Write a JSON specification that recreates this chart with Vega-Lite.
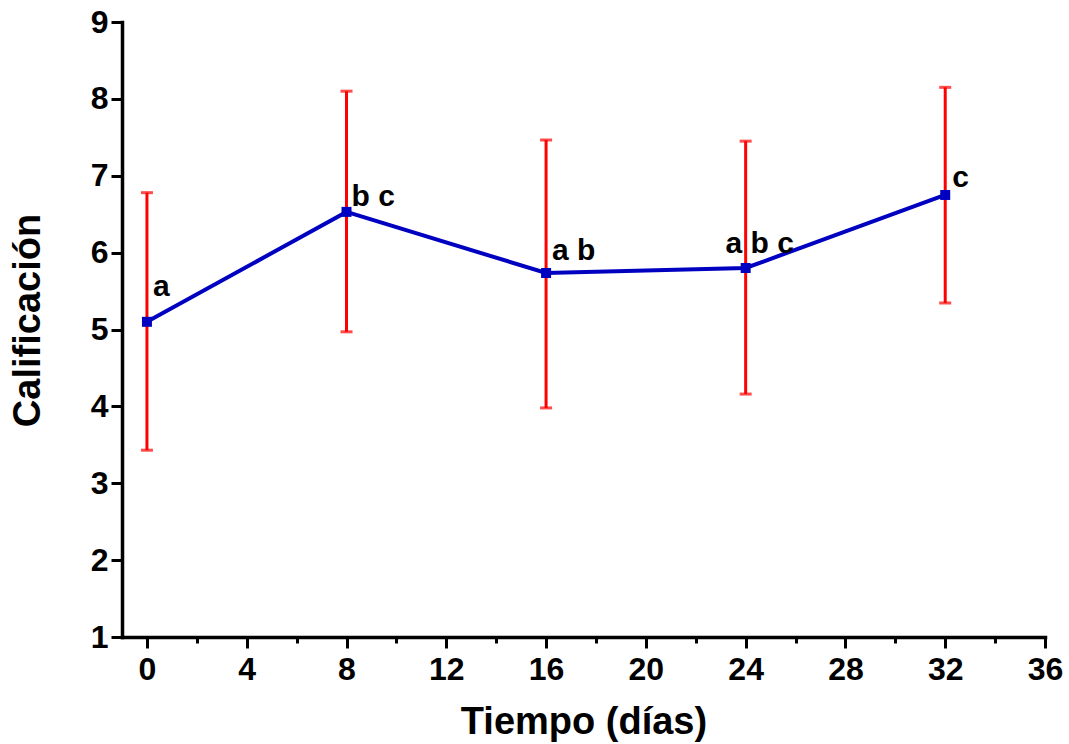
{
  "$schema": "https://vega.github.io/schema/vega-lite/v6.json",
  "width": 923,
  "height": 615,
  "autosize": "none",
  "padding": {"left": 122, "top": 22, "right": 24, "bottom": 107},
  "background": "white",
  "config": {
    "view": {"stroke": null},
    "font": "Liberation Sans",
    "axis": {
      "domainColor": "black",
      "domainWidth": 3.5,
      "domainCap": "square",
      "tickColor": "black",
      "tickWidth": 3,
      "grid": false,
      "labelFont": "Liberation Sans",
      "labelFontWeight": "bold",
      "labelFontSize": 32,
      "labelColor": "black",
      "titleFont": "Liberation Sans",
      "titleFontWeight": "bold",
      "titleFontSize": 38,
      "titleColor": "black"
    }
  },
  "data": {
    "values": [
      {"dias": 0, "media": 5.10, "lo": 3.43, "hi": 6.78, "letras": "a"},
      {"dias": 8, "media": 6.53, "lo": 4.97, "hi": 8.10, "letras": "b c"},
      {"dias": 16, "media": 5.735, "lo": 3.98, "hi": 7.465, "letras": "a b"},
      {"dias": 24, "media": 5.80, "lo": 4.16, "hi": 7.45, "letras": "a b c"},
      {"dias": 32, "media": 6.75, "lo": 5.345, "hi": 8.15, "letras": "c"}
    ]
  },
  "layer": [
    {
      "mark": {"type": "rule", "color": "#FF0000", "strokeWidth": 3},
      "encoding": {
        "x": {
          "field": "dias", "type": "quantitative",
          "scale": {"domain": [-1, 36], "nice": false, "zero": false},
          "axis": {
            "title": "Tiempo (días)",
            "values": [0, 2, 4, 6, 8, 10, 12, 14, 16, 18, 20, 22, 24, 26, 28, 30, 32, 34, 36],
            "labelExpr": "datum.value % 4 === 0 ? format(datum.value, 'd') : ''",
            "tickSize": {"condition": {"test": "datum.value % 4 === 0", "value": 11}, "value": 6},
            "labelFontSize": 32,
            "labelPadding": 6,
            "labelFlush": false,
            "labelOverlap": false,
            "titlePadding": 18
          }
        },
        "y": {
          "field": "lo", "type": "quantitative",
          "scale": {"domain": [1, 9], "nice": false, "zero": false},
          "axis": {
            "title": "Calificación",
            "values": [1, 1.5, 2, 2.5, 3, 3.5, 4, 4.5, 5, 5.5, 6, 6.5, 7, 7.5, 8, 8.5, 9],
            "labelExpr": "datum.value % 1 === 0 ? format(datum.value, 'd') : ''",
            "tickSize": {"condition": {"test": "datum.value % 1 === 0", "value": 11}, "value": 6},
            "labelFontSize": 32,
            "labelPadding": 3,
            "labelFlush": false,
            "labelOverlap": false,
            "titlePadding": 43,
            "titleY": 298
          }
        },
        "y2": {"field": "hi"}
      }
    },
    {
      "mark": {"type": "tick", "orient": "horizontal", "color": "#FF0000", "size": 12, "thickness": 3},
      "encoding": {
        "x": {"field": "dias", "type": "quantitative"},
        "y": {"field": "lo", "type": "quantitative"}
      }
    },
    {
      "mark": {"type": "tick", "orient": "horizontal", "color": "#FF0000", "size": 12, "thickness": 3},
      "encoding": {
        "x": {"field": "dias", "type": "quantitative"},
        "y": {"field": "hi", "type": "quantitative"}
      }
    },
    {
      "mark": {"type": "line", "color": "#0000C0", "strokeWidth": 4},
      "encoding": {
        "x": {"field": "dias", "type": "quantitative"},
        "y": {"field": "media", "type": "quantitative"}
      }
    },
    {
      "mark": {"type": "point", "shape": "square", "filled": true, "color": "#0000C0", "size": 100, "opacity": 1},
      "encoding": {
        "x": {"field": "dias", "type": "quantitative"},
        "y": {"field": "media", "type": "quantitative"}
      }
    },
    {
      "transform": [{"filter": "datum.dias === 0"}],
      "mark": {"type": "text", "align": "left", "baseline": "alphabetic", "dx": 6, "dy": -26, "fontSize": 30, "fontWeight": "bold", "font": "Liberation Sans", "color": "black"},
      "encoding": {
        "x": {"field": "dias", "type": "quantitative"},
        "y": {"field": "media", "type": "quantitative"},
        "text": {"field": "letras"}
      }
    },
    {
      "transform": [{"filter": "datum.dias === 8"}],
      "mark": {"type": "text", "align": "left", "baseline": "alphabetic", "dx": 5, "dy": -6, "fontSize": 30, "fontWeight": "bold", "font": "Liberation Sans", "color": "black"},
      "encoding": {
        "x": {"field": "dias", "type": "quantitative"},
        "y": {"field": "media", "type": "quantitative"},
        "text": {"field": "letras"}
      }
    },
    {
      "transform": [{"filter": "datum.dias === 16"}],
      "mark": {"type": "text", "align": "left", "baseline": "alphabetic", "dx": 6, "dy": -13, "fontSize": 30, "fontWeight": "bold", "font": "Liberation Sans", "color": "black"},
      "encoding": {
        "x": {"field": "dias", "type": "quantitative"},
        "y": {"field": "media", "type": "quantitative"},
        "text": {"field": "letras"}
      }
    },
    {
      "transform": [{"filter": "datum.dias === 24"}],
      "mark": {"type": "text", "align": "center", "baseline": "alphabetic", "dx": 14, "dy": -15, "fontSize": 30, "fontWeight": "bold", "font": "Liberation Sans", "color": "black"},
      "encoding": {
        "x": {"field": "dias", "type": "quantitative"},
        "y": {"field": "media", "type": "quantitative"},
        "text": {"field": "letras"}
      }
    },
    {
      "transform": [{"filter": "datum.dias === 32"}],
      "mark": {"type": "text", "align": "left", "baseline": "alphabetic", "dx": 7, "dy": -8, "fontSize": 30, "fontWeight": "bold", "font": "Liberation Sans", "color": "black"},
      "encoding": {
        "x": {"field": "dias", "type": "quantitative"},
        "y": {"field": "media", "type": "quantitative"},
        "text": {"field": "letras"}
      }
    }
  ]
}
